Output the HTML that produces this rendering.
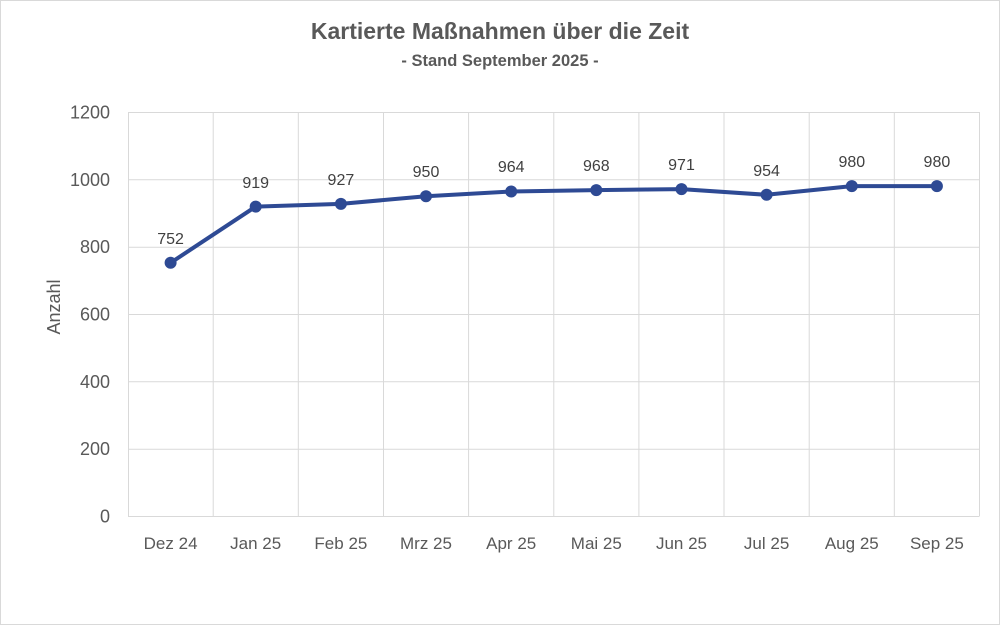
<!DOCTYPE html>
<html><head><meta charset="utf-8"><style>
html,body{margin:0;padding:0;background:#fff;}
svg{display:block;font-family:"Liberation Sans",sans-serif;}
</style></head><body>
<svg width="1000" height="625" xmlns="http://www.w3.org/2000/svg">
<rect x="0.5" y="0.5" width="999" height="624" fill="#fff" stroke="#d9d9d9"/>
<text x="500" y="39" text-anchor="middle" font-size="23" font-weight="bold" fill="#595959">Kartierte Maßnahmen über die Zeit</text>
<text x="500" y="66" text-anchor="middle" font-size="16.5" font-weight="bold" fill="#595959">- Stand September 2025 -</text>
<g stroke="#d9d9d9" stroke-width="1">
<line x1="128" y1="112.5" x2="979.5" y2="112.5"/>
<line x1="128" y1="179.8" x2="979.5" y2="179.8"/>
<line x1="128" y1="247.2" x2="979.5" y2="247.2"/>
<line x1="128" y1="314.5" x2="979.5" y2="314.5"/>
<line x1="128" y1="381.8" x2="979.5" y2="381.8"/>
<line x1="128" y1="449.2" x2="979.5" y2="449.2"/>
<line x1="128" y1="516.5" x2="979.5" y2="516.5"/>
<line x1="128.5" y1="112" x2="128.5" y2="516"/>
<line x1="213.2" y1="112" x2="213.2" y2="516"/>
<line x1="298.3" y1="112" x2="298.3" y2="516"/>
<line x1="383.5" y1="112" x2="383.5" y2="516"/>
<line x1="468.6" y1="112" x2="468.6" y2="516"/>
<line x1="553.8" y1="112" x2="553.8" y2="516"/>
<line x1="638.9" y1="112" x2="638.9" y2="516"/>
<line x1="724" y1="112" x2="724" y2="516"/>
<line x1="809.2" y1="112" x2="809.2" y2="516"/>
<line x1="894.3" y1="112" x2="894.3" y2="516"/>
<line x1="979.5" y1="112" x2="979.5" y2="516"/>
</g>
<g font-size="18" fill="#595959" text-anchor="end">
<text x="110" y="118.5">1200</text>
<text x="110" y="186">1000</text>
<text x="110" y="253">800</text>
<text x="110" y="320.5">600</text>
<text x="110" y="388">400</text>
<text x="110" y="455">200</text>
<text x="110" y="522.5">0</text>
</g>
<text transform="translate(60,307) rotate(-90)" text-anchor="middle" font-size="18" fill="#595959">Anzahl</text>
<g font-size="17" fill="#595959" text-anchor="middle">
<text x="170.6" y="549">Dez 24</text>
<text x="255.7" y="549">Jan 25</text>
<text x="340.9" y="549">Feb 25</text>
<text x="426" y="549">Mrz 25</text>
<text x="511.2" y="549">Apr 25</text>
<text x="596.3" y="549">Mai 25</text>
<text x="681.5" y="549">Jun 25</text>
<text x="766.6" y="549">Jul 25</text>
<text x="851.8" y="549">Aug 25</text>
<text x="936.9" y="549">Sep 25</text>
</g>
<polyline fill="none" stroke="#2e4a94" stroke-width="4" stroke-linejoin="round" points="170.6,262.8 255.7,206.6 340.9,203.9 426,196.2 511.2,191.5 596.3,190.1 681.5,189.1 766.6,194.8 851.8,186.1 936.9,186.1"/>
<g fill="#2e4a94">
<circle cx="170.6" cy="262.8" r="6"/><circle cx="255.7" cy="206.6" r="6"/><circle cx="340.9" cy="203.9" r="6"/><circle cx="426" cy="196.2" r="6"/><circle cx="511.2" cy="191.5" r="6"/><circle cx="596.3" cy="190.1" r="6"/><circle cx="681.5" cy="189.1" r="6"/><circle cx="766.6" cy="194.8" r="6"/><circle cx="851.8" cy="186.1" r="6"/><circle cx="936.9" cy="186.1" r="6"/>
</g>
<g font-size="16" fill="#404040" text-anchor="middle">
<text x="170.6" y="244">752</text>
<text x="255.7" y="188">919</text>
<text x="340.9" y="185">927</text>
<text x="426" y="177">950</text>
<text x="511.2" y="172">964</text>
<text x="596.3" y="171">968</text>
<text x="681.5" y="170">971</text>
<text x="766.6" y="176">954</text>
<text x="851.8" y="167">980</text>
<text x="936.9" y="167">980</text>
</g>
</svg>
</body></html>
